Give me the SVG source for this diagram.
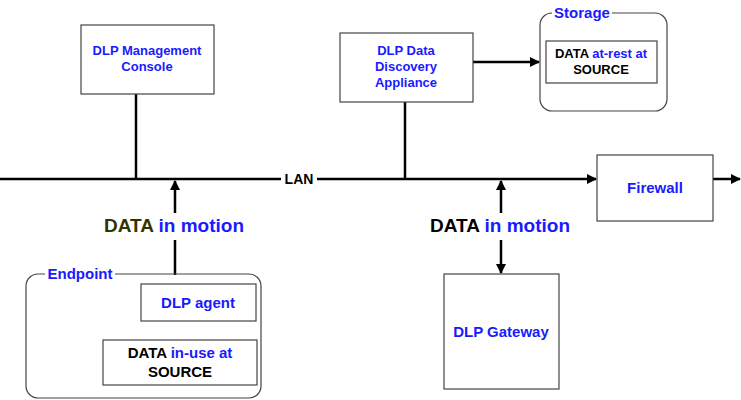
<svg xmlns="http://www.w3.org/2000/svg" width="741" height="400" viewBox="0 0 741 400">
<defs>
<marker id="ah" viewBox="0 0 10 10" refX="9" refY="5" markerWidth="4" markerHeight="4" orient="auto-start-reverse" markerUnits="strokeWidth"><path d="M0,0L10,5L0,10z" fill="#000"/></marker>
<style>
.box{fill:#fff;stroke:#444;stroke-width:1.2}
.ln{stroke:#000;stroke-width:2.5;fill:none}
text{font-family:"Liberation Sans",Arial,sans-serif;font-weight:bold;text-anchor:middle}
.b{fill:#1a1aff}
.k{fill:#000}
.s{font-size:13px}
.m{font-size:19px}
</style>
</defs>
<rect width="741" height="400" fill="#fff"/>
<g id="connectors">
<line class="ln" x1="0" y1="179" x2="596" y2="179" marker-end="url(#ah)"/>
<line class="ln" x1="713" y1="179" x2="740" y2="179" marker-end="url(#ah)"/>
<line class="ln" x1="136" y1="94" x2="136" y2="179"/>
<line class="ln" x1="405" y1="102" x2="405" y2="179"/>
<line class="ln" x1="473" y1="62" x2="539" y2="62" marker-end="url(#ah)"/>
<line class="ln" x1="175" y1="213" x2="175" y2="181" marker-end="url(#ah)"/>
<line class="ln" x1="175" y1="240" x2="175" y2="275"/>
<line class="ln" x1="501" y1="213" x2="501" y2="181" marker-end="url(#ah)"/>
<line class="ln" x1="501" y1="240" x2="501" y2="273" marker-end="url(#ah)"/>
<rect x="281" y="170" width="36" height="18" fill="#fff"/>
<text x="299" y="184" class="k" style="font-size:14px">LAN</text>
<text x="174" y="232" class="m"><tspan fill="#333300">DATA</tspan><tspan class="b"> in motion</tspan></text>
<text x="500" y="232" class="m"><tspan fill="#000">DATA</tspan><tspan class="b"> in motion</tspan></text>
</g>
<g id="mgmt"><rect class="box" x="81" y="25" width="133" height="69"/><text class="b s" x="147" y="55">DLP Management</text><text class="b s" x="147" y="71">Console</text></g>
<g id="appliance"><rect class="box" x="340" y="33" width="133" height="69"/><text class="b s" x="406" y="55">DLP Data</text><text class="b s" x="406" y="71">Discovery</text><text class="b s" x="406" y="87">Appliance</text></g>
<g id="storage"><rect x="540" y="13" width="127" height="98" rx="12" fill="#fff" stroke="#444" stroke-width="1.2"/><rect x="552" y="5" width="60" height="16" fill="#fff"/><text class="b" x="582" y="18" style="font-size:15px">Storage</text>
<rect class="box" x="546" y="41" width="111" height="42"/><text class="s" x="601" y="58"><tspan fill="#000">DATA </tspan><tspan class="b">at-rest at</tspan></text><text class="k s" x="601" y="74">SOURCE</text></g>
<g id="firewall"><rect class="box" x="597" y="155" width="116" height="66"/><text class="b" x="655" y="193" style="font-size:15px">Firewall</text></g>
<g id="endpoint"><rect x="26" y="274" width="235" height="124" rx="12" fill="none" stroke="#444" stroke-width="1.2"/><rect x="45" y="266" width="70" height="16" fill="#fff"/><text class="b" x="80" y="279" style="font-size:15px">Endpoint</text>
<rect class="box" x="141" y="284" width="115" height="37"/><text class="b" x="198" y="308" style="font-size:15px">DLP agent</text>
<rect class="box" x="103" y="340" width="154" height="45"/><text x="180" y="358" style="font-size:15px"><tspan fill="#000">DATA </tspan><tspan class="b">in-use at</tspan></text><text class="k" x="180" y="377" style="font-size:15px">SOURCE</text></g>
<g id="gateway"><rect class="box" x="444" y="274" width="115" height="115"/><text class="b" x="501" y="337" style="font-size:15px">DLP Gateway</text></g>
</svg>
